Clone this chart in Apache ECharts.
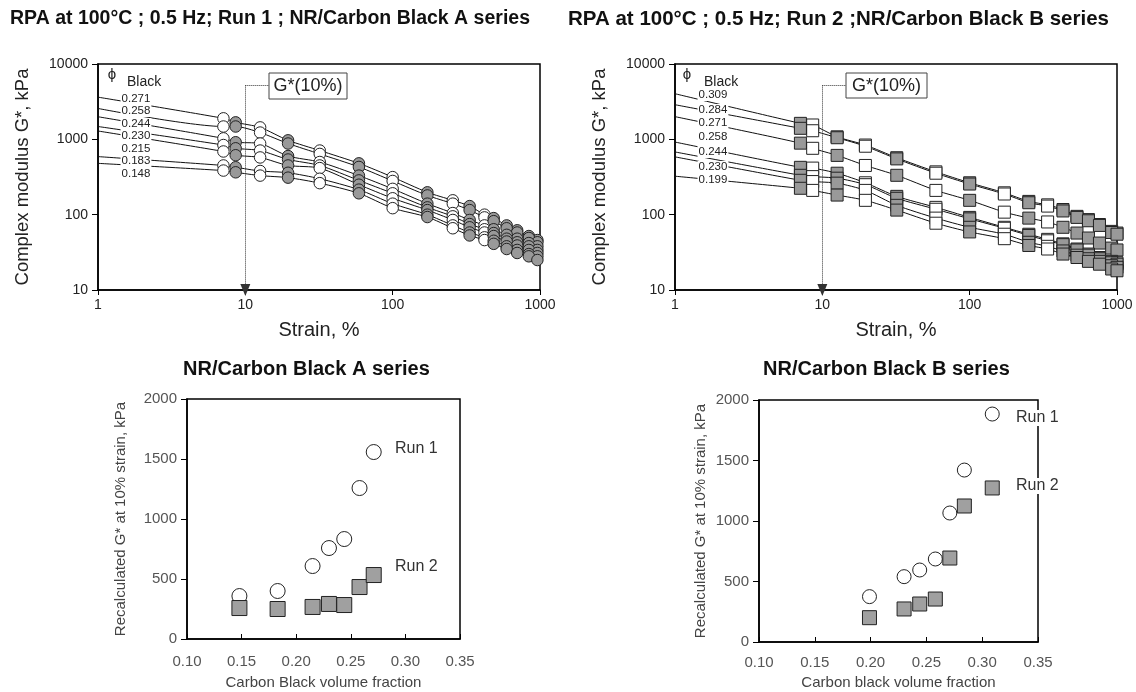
<!DOCTYPE html>
<html><head><meta charset="utf-8">
<script src="https://cdn.jsdelivr.net/npm/echarts@6/dist/echarts.min.js"></script>
<style>html,body{margin:0;padding:0;background:#fff}#c{width:1136px;height:692px}</style>
</head><body><div id="c"></div>
<script>
// ---------- DATA ----------
// Top-left: RPA Run 1, NR/Carbon Black A series (strain sweep, % ; G* kPa)
const strainA = [7.1, 8.6, 12.6, 19.5, 32, 59, 100, 172, 256, 333, 420, 485, 594, 700, 840, 960];
const sweepA  = ['w','g','w','g','w','g','w','g','w','g','w','g','g','g','g','g'];
const phiLabelsA = ['0.271','0.258','0.244','0.230','0.215','0.183','0.148'];
const startA = [3630, 2570, 1995, 1480, 1290, 590, 480];   // fitted curve value at 1 % strain
const gA_271 = [1900,1680,1440,970,710,480,315,198,155,130,100,90,72,62,52,46];
const gA_258 = [1480,1480,1230,880,640,430,280,180,140,115,92,82,66,58,49,43];
const gA_244 = [1030,915,880,600,500,330,220,140,105,85,72,64,54,48,42,38];
const gA_230 = [840,760,710,540,450,285,192,125,95,75,64,57,48,43,38,34];
const gA_215 = [690,615,575,450,415,250,165,115,85,68,58,52,44,39,34,31];
const gA_183 = [450,426,380,360,300,215,140,100,72,58,50,45,38,34,30,28];
const gA_148 = [385,365,330,310,262,192,122,93,66,53,46,41,35,31,28,25];

// Top-right: RPA Run 2, NR/Carbon Black B series
const strainB = [7.1, 8.6, 12.6, 19.6, 32, 59, 100, 172, 252, 338, 430, 535, 640, 760, 920, 1000];
const sweepB  = ['g','w','g','w','g','w','g','w','g','w','g','g','g','g','g','g'];
const phiLabelsB = ['0.309','0.284','0.271','0.258','0.244','0.230','0.199'];
const startB = [4030, 2880, 2000, 920, 680, 585, 324];
const gB_309 = [1630,1550,1080,840,570,370,265,195,150,135,117,95,86,74,60,57];
const gB_284 = [1400,1300,1050,810,550,355,255,188,144,130,112,92,83,72,58,55];
const gB_271 = [890,760,612,450,333,210,155,108,90,80,68,57,49,42,36,34];
const gB_258 = [425,415,355,265,175,125,92,68,55,47,41,35,30,27,24,23];
const gB_244 = [333,320,305,250,165,118,88,66,53,45,40,34,29,26,23,22];
const gB_230 = [286,275,262,210,133,90,68,55,43,38,33,29,26,24,21,20];
const gB_199 = [224,210,182,155,115,77,59,48,39,35,30,27,24,22,19,18];

// Bottom: recalculated G* at 10 % strain vs carbon black volume fraction
const phiA = [0.148, 0.183, 0.215, 0.230, 0.244, 0.258, 0.271];
const run1A = [358, 400, 608, 758, 833, 1258, 1558];
const run2A = [258, 250, 267, 292, 283, 433, 533];
const phiB = [0.199, 0.230, 0.244, 0.258, 0.271, 0.284, 0.309];
const run1B = [375, 540, 595, 686, 1066, 1421, 1884];
const run2B = [201, 273, 314, 355, 694, 1124, 1273];

// G*(10%) marker
const refStrain = 10, refLevel = 5200, boxStrain = 14.6;

// ---------- CHART ----------
const FF = '"Liberation Sans", Arial, Helvetica, sans-serif';
const rowsA = [gA_271, gA_258, gA_244, gA_230, gA_215, gA_183, gA_148];
const rowsB = [gB_309, gB_284, gB_271, gB_258, gB_244, gB_230, gB_199];

function curveSeries(ax, strains, starts, rows) {
  return rows.map((row, i) => ({
    type: 'line', xAxisIndex: ax, yAxisIndex: ax, smooth: 0.25, symbol: 'none', silent: true,
    lineStyle: { color: '#111', width: 1 }, z: 2, animation: false,
    data: [[1, starts[i]]].concat(strains.map((s, j) => [s, row[j]]))
  }));
}
function pointSeries(ax, strains, sweep, rows, which, shape, fill, size) {
  const data = [];
  rows.forEach(row => strains.forEach((s, j) => { if (sweep[j] === which) data.push([s, row[j]]); }));
  return { type: 'scatter', xAxisIndex: ax, yAxisIndex: ax, symbol: shape, symbolSize: size, z: 3,
    itemStyle: { color: fill, borderColor: '#222', borderWidth: 1, opacity: 1 }, data, animation: false };
}
function refSeries(ax) {
  return { type: 'line', xAxisIndex: ax, yAxisIndex: ax, data: [], z: 4,
    markLine: { silent: true, animation: false, symbol: ['none', 'none'], label: { show: false },
      lineStyle: { type: 'dotted', color: '#333', width: 1 },
      data: [
        [{ coord: [refStrain, refLevel] }, { coord: [refStrain, 10], symbol: 'triangle', symbolSize: [10, 12] }],
        [{ coord: [refStrain, refLevel] }, { coord: [boxStrain, refLevel] }]
      ] } };
}
const plain = v => String(Math.round(v));

const logX = (g) => ({ type: 'log', logBase: 10, gridIndex: g, min: 1, max: 1000,
  name: 'Strain, %', nameLocation: 'middle', nameGap: 30, nameMoveOverlap: false,
  nameTextStyle: { fontSize: 20, color: '#222', fontFamily: FF },
  axisLine: { lineStyle: { color: '#000', width: 1.5 } },
  axisTick: { length: 5, lineStyle: { color: '#000' } },
  axisLabel: { fontSize: 14, color: '#222', fontFamily: FF, margin: 8, formatter: plain },
  splitLine: { show: false }, minorTick: { show: false } });
const logY = (g) => ({ type: 'log', logBase: 10, gridIndex: g, min: 10, max: 10000,
  name: 'Complex modulus G*, kPa', nameLocation: 'middle', nameGap: 66, nameRotate: 90, nameMoveOverlap: false,
  nameTextStyle: { fontSize: 18.5, color: '#222', fontFamily: FF },
  axisLine: { lineStyle: { color: '#000', width: 1.5 } },
  axisTick: { length: 6, lineStyle: { color: '#000' } },
  axisLabel: { fontSize: 14, color: '#222', fontFamily: FF, margin: 10, formatter: plain },
  splitLine: { show: false } });
const linX = (g, name, gap, margin) => ({ type: 'value', gridIndex: g, min: 0.10, max: 0.35, interval: 0.05,
  name, nameLocation: 'middle', nameGap: gap, nameMoveOverlap: false,
  nameTextStyle: { fontSize: 15, color: '#444', fontFamily: FF },
  axisLine: { lineStyle: { color: '#000', width: 1.5 } },
  axisTick: { inside: true, length: 5, lineStyle: { color: '#000' } },
  axisLabel: { fontSize: 15, color: '#555', fontFamily: FF, margin, formatter: v => v.toFixed(2) },
  splitLine: { show: false } });
const linY = (g, gap) => ({ type: 'value', gridIndex: g, min: 0, max: 2000, interval: 500,
  name: 'Recalculated G* at 10% strain, kPa', nameLocation: 'middle', nameGap: gap, nameRotate: 90, nameMoveOverlap: false,
  nameTextStyle: { fontSize: 15, color: '#444', fontFamily: FF },
  axisLine: { lineStyle: { color: '#000', width: 1.5 } },
  axisTick: { length: 6, lineStyle: { color: '#000' } },
  axisLabel: { fontSize: 15, color: '#555', fontFamily: FF, margin: 10, formatter: plain },
  splitLine: { show: false } });

const frame = { show: true, borderColor: '#000', borderWidth: 1.5, backgroundColor: 'transparent' };

function txt(x, y, text, size, opts) {
  return Object.assign({ type: 'text', x, y, z: 50, silent: true,
    style: Object.assign({ text, fontSize: size, fontFamily: FF, fill: '#222', align: 'left', verticalAlign: 'middle' }, opts || {}) });
}
const graphics = [];
const lblYA = [99, 111, 124, 136, 149, 161, 174];
const lblYB = [95, 110, 123, 137, 152, 167, 180];
phiLabelsA.forEach((t, i) => graphics.push(txt(136, lblYA[i], t, 11.5, { align: 'center', backgroundColor: '#fff', padding: [0, 1] })));
phiLabelsB.forEach((t, i) => graphics.push(txt(713, lblYB[i], t, 11.5, { align: 'center', backgroundColor: '#fff', padding: [0, 1] })));
graphics.push(txt(112, 75, 'ϕ', 15, { align: 'center' }), txt(127, 82, 'Black', 14));
graphics.push(txt(687, 75, 'ϕ', 15, { align: 'center' }), txt(704, 82, 'Black', 14));
graphics.push({ type: 'rect', z: 50, silent: true, shape: { x: 269, y: 73, width: 78, height: 26 }, style: { fill: '#fff', stroke: '#444', lineWidth: 1 } });
graphics.push(txt(308, 86, 'G*(10%)', 18, { align: 'center' }));
graphics.push({ type: 'rect', z: 50, silent: true, shape: { x: 846, y: 73, width: 81, height: 25 }, style: { fill: '#fff', stroke: '#444', lineWidth: 1 } });
graphics.push(txt(886.5, 86, 'G*(10%)', 18, { align: 'center' }));
graphics.push(txt(395, 449, 'Run 1', 16, { fill: '#333' }), txt(395, 567, 'Run 2', 16, { fill: '#333' }));
graphics.push(txt(1016, 418, 'Run 1', 16, { fill: '#333', backgroundColor: '#fff' }), txt(1016, 486, 'Run 2', 16, { fill: '#333', backgroundColor: '#fff' }));

const titleStyle = (s) => ({ fontSize: s, fontWeight: 'bold', color: '#111', fontFamily: FF });
const option = {
  backgroundColor: '#fff',
  animation: false,
  title: [
    { text: 'RPA at 100°C ; 0.5 Hz; Run 1 ; NR/Carbon Black A series', left: 10, top: 9, padding: 0, textStyle: titleStyle(19.5) },
    { text: 'RPA at 100°C ; 0.5 Hz; Run 2 ;NR/Carbon Black B series', left: 568, top: 9, padding: 0, textStyle: titleStyle(20.5) },
    { text: 'NR/Carbon Black A series', left: 183, top: 359, padding: 0, textStyle: titleStyle(20) },
    { text: 'NR/Carbon Black B series', left: 763, top: 359, padding: 0, textStyle: titleStyle(20) }
  ],
  grid: [
    Object.assign({ left: 98, top: 64, width: 442, height: 226 }, frame),
    Object.assign({ left: 675, top: 64, width: 442, height: 226 }, frame),
    Object.assign({ left: 187, top: 399, width: 273, height: 240 }, frame),
    Object.assign({ left: 759, top: 400, width: 279, height: 242 }, frame)
  ],
  xAxis: [logX(0), logX(1), linX(2, 'Carbon Black volume fraction', 36, 15), linX(3, 'Carbon black volume fraction', 33, 13)],
  yAxis: [logY(0), logY(1), linY(2, 59), linY(3, 51)],
  graphic: graphics,
  series: [].concat(
    curveSeries(0, strainA, startA, rowsA),
    [pointSeries(0, strainA, sweepA, rowsA, 'w', 'circle', '#fff', 11.5),
     pointSeries(0, strainA, sweepA, rowsA, 'g', 'circle', '#999', 11.5),
     refSeries(0)],
    curveSeries(1, strainB, startB, rowsB),
    [pointSeries(1, strainB, sweepB, rowsB, 'w', 'rect', '#fff', 12),
     pointSeries(1, strainB, sweepB, rowsB, 'g', 'rect', '#999', 12),
     refSeries(1)],
    [
      { type: 'scatter', name: 'Run 1', xAxisIndex: 2, yAxisIndex: 2, symbol: 'circle', symbolSize: 15,
        itemStyle: { color: '#fff', borderColor: '#222', borderWidth: 1, opacity: 1 }, z: 3,
        data: phiA.map((p, i) => [p, run1A[i]]) },
      { type: 'scatter', name: 'Run 2', xAxisIndex: 2, yAxisIndex: 2, symbol: 'rect', symbolSize: 15,
        itemStyle: { color: '#a0a0a0', borderColor: '#222', borderWidth: 1, opacity: 1 }, z: 4,
        data: phiA.map((p, i) => [p, run2A[i]]) },
      { type: 'scatter', name: 'Run 1', xAxisIndex: 3, yAxisIndex: 3, symbol: 'circle', symbolSize: 14,
        itemStyle: { color: '#fff', borderColor: '#222', borderWidth: 1, opacity: 1 }, z: 3,
        data: phiB.map((p, i) => [p, run1B[i]]) },
      { type: 'scatter', name: 'Run 2', xAxisIndex: 3, yAxisIndex: 3, symbol: 'rect', symbolSize: 14,
        itemStyle: { color: '#a0a0a0', borderColor: '#222', borderWidth: 1, opacity: 1 }, z: 4,
        data: phiB.map((p, i) => [p, run2B[i]]) }
    ]
  )
};
const chart = echarts.init(document.getElementById('c'), null, { renderer: 'canvas' });
chart.setOption(option);
</script></body></html>
